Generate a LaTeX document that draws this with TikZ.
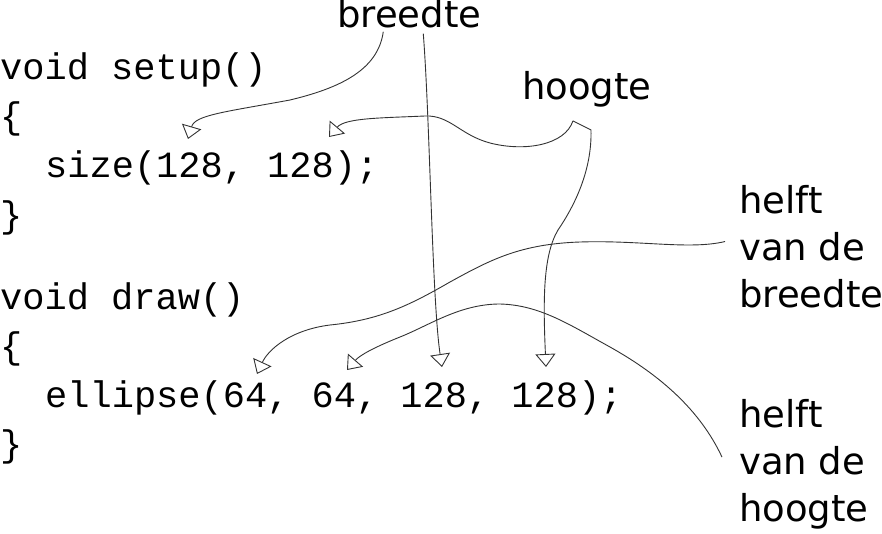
\documentclass[tikz,border=0pt]{standalone}
\usepackage{fontspec}
\newfontfamily\codefont{Liberation Mono}
\newfontfamily\labelfont{DejaVu Sans}
\usetikzlibrary{arrows.meta}
\tikzset{
  code/.style={anchor=base west, inner sep=0pt, font=\codefont\fontsize{37}{46}\selectfont},
  label/.style={inner sep=0pt, align=left, font=\labelfont\fontsize{37}{47}\selectfont},
  pointer/.style={draw=black!80, line width=0.9pt, -{Triangle[open, length=13pt, width=20pt]}}
}
\begin{document}
\begin{tikzpicture}[x=1pt, y=-1pt]
\useasboundingbox (0,0) rectangle (882,534);
\node[code] (setupHead) at (0,80) {void setup()};
\node[code] (setupOpen) at (0,129) {\{};
\node[code] (sizeCall) at (45,178) {size(128, 128);};
\node[code] (setupClose) at (0,228) {\}};
\node[code] (drawHead) at (0,309) {void draw()};
\node[code] (drawOpen) at (0,358) {\{};
\node[code] (ellipseCall) at (45,407) {ellipse(64, 64, 128, 128);};
\node[code] (drawClose) at (0,456) {\}};
\node[label, anchor=base west] (breedte) at (337,28) {breedte};
\node[label, anchor=base west] (hoogte) at (522,100) {hoogte};
\node[label, anchor=north west] (halfBreedte) at (739,185) {helft\\van de\\breedte};
\node[label, anchor=north west] (halfHoogte) at (739,399) {helft\\van de\\hoogte};
\coordinate (sizeW) at (188,139);
\coordinate (sizeH) at (329,137);
\coordinate (ellX) at (257,374);
\coordinate (ellY) at (347,370);
\coordinate (ellW) at (442,367);
\coordinate (ellH) at (546,367);
\coordinate (hook) at ([xshift=-14pt, yshift=-13pt]hoogte.south);
\draw[pointer] ([xshift=-26pt, yshift=-3pt]breedte.south) .. controls (378,70) and (340,88) .. (290,100) .. controls (225,112) and (195,115) .. (sizeW);
\draw[pointer] ([xshift=14pt, yshift=-5pt]breedte.south) .. controls (430,120) and (432,300) .. (ellW);
\draw[pointer] (hook) .. controls (565,145) and (525,152) .. (490,143) .. controls (460,135) and (450,115) .. (425,116) .. controls (380,118) and (345,118) .. (sizeH);
\draw[pointer] (hook) -- (591,130) .. controls (592,170) and (575,205) .. (558,230) .. controls (543,255) and (543,300) .. (ellH);
\draw[pointer] ([xshift=-14pt, yshift=5pt]halfBreedte.west) .. controls (690,250) and (640,240) .. (580,242) .. controls (520,244) and (490,260) .. (450,282) .. controls (410,305) and (380,320) .. (330,325) .. controls (290,330) and (268,350) .. (ellX);
\draw[pointer] ([xshift=-17pt, yshift=7pt]halfHoogte.west) .. controls (700,410) and (660,375) .. (610,347) .. controls (570,325) and (540,305) .. (500,304) .. controls (460,304) and (430,325) .. (400,337) .. controls (375,347) and (360,355) .. (ellY);
\end{tikzpicture}
\end{document}
